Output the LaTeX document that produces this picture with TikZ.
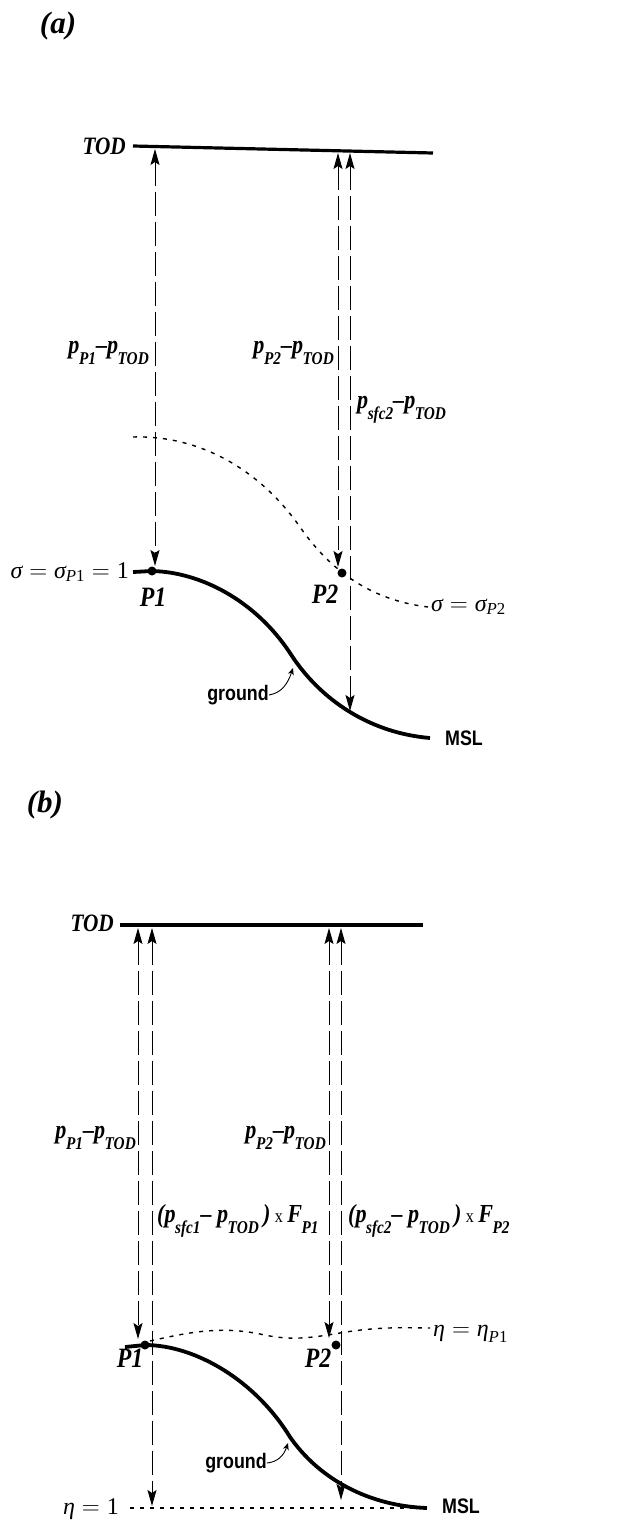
\documentclass[tikz,border=0pt]{standalone}
\usepackage{amsmath}
\usepackage{fontspec}
\setmainfont{Liberation Serif}
\newfontfamily\bis[FakeStretch=0.85,Ligatures=TeX]{Liberation Serif}
\newfontfamily\hvn[FakeStretch=0.85]{Liberation Sans}
\usetikzlibrary{arrows.meta}
\newcommand{\sbx}[1]{\kern-0.5pt\raisebox{-11pt}{\fontsize{18}{18}\selectfont #1}}
\newcommand{\gk}[1]{\textit{#1}}
\newcommand{\tms}{{\mdseries\upshape\fontsize{19}{19}\selectfont x}}
\begin{document}
\begin{tikzpicture}[x=1pt,y=-1pt,
 lbl/.style={font=\fontsize{26}{30}\selectfont\bis\bfseries\itshape, inner sep=0pt},
 todl/.style={font=\fontsize{25}{30}\selectfont\bis\bfseries\itshape, inner sep=0pt},
 plbl/.style={font=\fontsize{28}{32}\selectfont\bis\bfseries\itshape, inner sep=0pt},
 panel/.style={font=\fontsize{31}{35}\selectfont\bfseries\itshape, inner sep=0pt},
 mth/.style={font=\fontsize{24}{28}\selectfont, inner sep=0pt},
 sanslbl/.style={font=\fontsize{21}{25}\selectfont\hvn\bfseries, inner sep=0pt},
 thickline/.style={line width=3.2pt},
 groundline/.style={line width=3.8pt},
 dotline/.style={line width=1.4pt, dash pattern=on 4pt off 6pt},
 darr/.style={line width=1pt, dash pattern=on 24pt off 6pt, {Stealth[length=16pt,width=9pt,inset=3pt]}-{Stealth[length=16pt,width=9pt,inset=3pt]}},
 ptdot/.style={circle, fill, inner sep=0pt, minimum size=9pt},
 gnd/.style={line width=0.9pt, -{Stealth[length=7pt,width=6pt]}}
]
\useasboundingbox (0,0) rectangle (629,1521);

% ---------------- panel (a)
\node[panel] (labA) at (58,26) {(a)};
\node[todl, anchor=east] (todA) at (126,146) {TOD};
\coordinate (todAl) at (133,146);
\coordinate (todAr) at (433,153);
\draw[thickline] (todAl) -- (todAr);

\coordinate (sA0) at (133,437);
\coordinate (sA1) at (300,527);
\coordinate (sA2) at (428,607);
\draw[dotline] (sA0) .. controls (200,435) and (260,470) .. (sA1) .. controls (330,570) and (370,600) .. (sA2);
\node[mth, anchor=base west] (sigP2) at (431,611) {$\gk{σ} = \gk{σ}_{\gk{P}\text{2}}$};

\coordinate (gA0) at (133,572);
\coordinate (gA1) at (290,653);
\coordinate (gA2) at (430,738);
\node[ptdot] (P1A) at (152,571) {};
\draw[groundline] (gA0) -- (P1A.center) .. controls (200,572) and (255,600) .. (gA1) .. controls (320,700) and (370,733) .. (gA2);
\node[ptdot] (P2A) at (342,573) {};
\node[mth, anchor=base east] (sigP1) at (129,578) {$\gk{σ} = \gk{σ}_{\gk{P}\text{1}} = \text{1}$};
\node[plbl] (P1Alab) at (153,597) {P1};
\node[plbl] (P2Alab) at (325,594) {P2};
\node[sanslbl] (mslA) at (464,738) {MSL};
\node[sanslbl] (gndA) at (238,695) {ground};
\coordinate (gndAt) at (293,668);
\draw[gnd] (gndA.east) .. controls (282,693) and (288,683) .. (gndAt);

\coordinate (a1t) at (155,149); \coordinate (a1b) at (155,566);
\coordinate (a2t) at (338,153); \coordinate (a2b) at (338,567);
\coordinate (a3t) at (350,153); \coordinate (a3b) at (350,711);
\draw[darr] (a1t) -- (a1b);
\draw[darr] (a2t) -- (a2b);
\draw[darr] (a3t) -- (a3b);

\node[lbl, anchor=base east] (lA1) at (149,353) {p\sbx{P1}–p\sbx{TOD}};
\node[lbl, anchor=base east] (lA2) at (334,353) {p\sbx{P2}–p\sbx{TOD}};
\node[lbl, anchor=base west] (lA3) at (357,408) {p\sbx{sfc2}–p\sbx{TOD}};

% ---------------- panel (b)
\node[panel] (labB) at (45,805) {(b)};
\node[todl, anchor=east] (todB) at (114,923) {TOD};
\coordinate (todBl) at (120,925);
\coordinate (todBr) at (423,925);
\draw[thickline] (todBl) -- (todBr);

\coordinate (eB0) at (150,1341);
\coordinate (eB1) at (260,1334);
\coordinate (eB2) at (340,1333);
\coordinate (eB3) at (430,1328);
\draw[dotline] (eB0) .. controls (190,1332) and (220,1326) .. (eB1) .. controls (290,1341) and (310,1338) .. (eB2) .. controls (380,1326) and (410,1328) .. (eB3);
\node[mth, anchor=base west] (etaP1) at (433,1336) {$\gk{η} = \gk{η}_{\gk{P}\text{1}}$};

\coordinate (e1l) at (130,1508);
\coordinate (e1r) at (425,1508);
\draw[dotline] (e1l) -- (e1r);
\node[mth, anchor=base east] (eta1) at (119,1514) {$\gk{η} = \text{1}$};

\coordinate (gB0) at (125,1347);
\coordinate (gB1) at (290,1437);
\coordinate (gB2) at (427,1508);
\node[ptdot] (P1B) at (145,1345) {};
\draw[groundline] (gB0) -- (P1B.center) .. controls (195,1345) and (255,1380) .. (gB1) .. controls (320,1480) and (370,1506) .. (gB2);
\node[ptdot] (P2B) at (336,1345) {};
\node[plbl] (P1Blab) at (130,1358) {P1};
\node[plbl] (P2Blab) at (318,1358) {P2};
\node[sanslbl] (mslB) at (461,1506) {MSL};
\node[sanslbl] (gndB) at (236,1463) {ground};
\coordinate (gndBt) at (288,1443);
\draw[gnd] (gndB.east) .. controls (278,1462) and (284,1455) .. (gndBt);

\coordinate (b1t) at (138,928); \coordinate (b1b) at (138,1339);
\coordinate (b2t) at (152,928); \coordinate (b2b) at (152,1506);
\coordinate (b3t) at (329,928); \coordinate (b3b) at (329,1338);
\coordinate (b4t) at (341,928); \coordinate (b4b) at (341,1500);
\draw[darr] (b1t) -- (b1b);
\draw[darr] (b2t) -- (b2b);
\draw[darr] (b3t) -- (b3b);
\draw[darr] (b4t) -- (b4b);

\node[lbl, anchor=base east] (lB1) at (136,1138) {p\sbx{P1}–p\sbx{TOD}};
\node[lbl, anchor=base east] (lB2) at (326,1138) {p\sbx{P2}–p\sbx{TOD}};
\node[lbl, anchor=base west] (lB3) at (157,1222) {(p\sbx{sfc1}– p\sbx{TOD}\,)\,\tms\,F\sbx{P1}};
\node[lbl, anchor=base west] (lB4) at (348,1222) {(p\sbx{sfc2}– p\sbx{TOD}\,)\,\tms\,F\sbx{P2}};
\end{tikzpicture}
\end{document}
